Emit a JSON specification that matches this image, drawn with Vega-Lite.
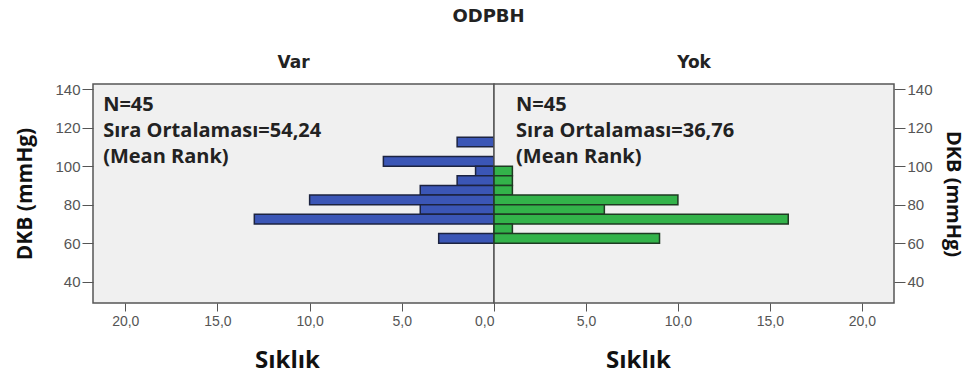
{
  "$schema": "https://vega.github.io/schema/vega-lite/v6.json",
  "background": "white",
  "padding": {"left": 14, "right": 2, "top": 8, "bottom": 2},
  "bounds": "flush",
  "title": {"text": "ODPBH", "anchor": "middle", "fontSize": 18, "font": "DejaVu Sans", "fontWeight": "bold", "color": "#222", "offset": 27},
  "datasets": {
    "bars": [
      {"group": "Var", "lo": 110, "hi": 115, "count": 2},
      {"group": "Var", "lo": 100, "hi": 105, "count": 6},
      {"group": "Var", "lo": 95, "hi": 100, "count": 1},
      {"group": "Var", "lo": 90, "hi": 95, "count": 2},
      {"group": "Var", "lo": 85, "hi": 90, "count": 4},
      {"group": "Var", "lo": 80, "hi": 85, "count": 10},
      {"group": "Var", "lo": 75, "hi": 80, "count": 4},
      {"group": "Var", "lo": 70, "hi": 75, "count": 13},
      {"group": "Var", "lo": 60, "hi": 65, "count": 3},
      {"group": "Yok", "lo": 95, "hi": 100, "count": 1},
      {"group": "Yok", "lo": 90, "hi": 95, "count": 1},
      {"group": "Yok", "lo": 85, "hi": 90, "count": 1},
      {"group": "Yok", "lo": 80, "hi": 85, "count": 10},
      {"group": "Yok", "lo": 75, "hi": 80, "count": 6},
      {"group": "Yok", "lo": 70, "hi": 75, "count": 16},
      {"group": "Yok", "lo": 65, "hi": 70, "count": 1},
      {"group": "Yok", "lo": 60, "hi": 65, "count": 9}
    ],
    "notes": [
      {"group": "Var", "label": "N=45\nSıra Ortalaması=54,24\n(Mean Rank)"},
      {"group": "Yok", "label": "N=45\nSıra Ortalaması=36,76\n(Mean Rank)"}
    ]
  },
  "spacing": 0,
  "hconcat": [
    {
      "width": 401,
      "height": 219,
      "title": {"text": "Var", "fontSize": 17, "font": "DejaVu Sans", "fontWeight": "bold", "color": "#222", "offset": 10},
      "layer": [
        {
          "data": {"name": "bars"},
          "transform": [{"filter": "datum.group === 'Var'"}],
          "mark": {"type": "bar", "color": "#3b56b6", "stroke": "#1c2340", "strokeWidth": 1.5},
          "encoding": {
            "x": {"field": "count", "type": "quantitative",
              "scale": {"domain": [0, 21.75], "reverse": true, "nice": false, "zero": false},
              "axis": {"values": [0, 5, 10, 15, 20], "labelExpr": "replace(format(datum.value, '.1f'), '.', ',')",
                "title": "Sıklık", "titleX": 194, "titleFontSize": 24, "titleFont": "Open Sans", "titleFontWeight": "bold", "titleColor": "#111", "titlePadding": 20,
                "grid": false, "domain": false, "tickSize": 8, "tickColor": "#555", "labelFont": "Liberation Sans", "labelFontSize": 14, "labelColor": "#555", "labelPadding": 3}},
            "x2": {"datum": 0},
            "y": {"field": "lo", "type": "quantitative",
              "scale": {"domain": [29, 142.6], "nice": false, "zero": false},
              "axis": {"orient": "left", "values": [40, 60, 80, 100, 120, 140], "title": "DKB (mmHg)",
                "titleFontSize": 21, "titleFont": "Open Sans", "titleFontWeight": "bold", "titleColor": "#111", "titlePadding": 19,
                "grid": false, "domain": false, "tickSize": 11, "tickColor": "#555", "labelFont": "Liberation Sans", "labelFontSize": 15, "labelColor": "#555", "labelPadding": 2}},
            "y2": {"field": "hi"}
          }
        },
        {
          "data": {"name": "notes"},
          "transform": [{"filter": "datum.group === 'Var'"}],
          "mark": {"type": "text", "align": "left", "baseline": "middle", "lineBreak": "\n", "lineHeight": 26, "fontSize": 20, "font": "Open Sans", "fontWeight": "bold", "color": "#222"},
          "encoding": {
            "x": {"datum": 21.2},
            "y": {"datum": 131.5},
            "text": {"field": "label"}
          }
        }
      ]
    },
    {
      "width": 400,
      "height": 219,
      "title": {"text": "Yok", "fontSize": 17, "font": "DejaVu Sans", "fontWeight": "bold", "color": "#222", "offset": 10},
      "layer": [
        {
          "data": {"name": "bars"},
          "transform": [{"filter": "datum.group === 'Yok'"}],
          "mark": {"type": "bar", "color": "#33b34a", "stroke": "#1e3a22", "strokeWidth": 1.5},
          "encoding": {
            "x": {"field": "count", "type": "quantitative",
              "scale": {"domain": [0, 21.75], "nice": false, "zero": false},
              "axis": {"values": [5, 10, 15, 20], "labelExpr": "replace(format(datum.value, '.1f'), '.', ',')",
                "title": "Sıklık", "titleX": 144, "titleFontSize": 24, "titleFont": "Open Sans", "titleFontWeight": "bold", "titleColor": "#111", "titlePadding": 20,
                "grid": false, "domain": false, "tickSize": 8, "tickColor": "#555", "labelFont": "Liberation Sans", "labelFontSize": 14, "labelColor": "#555", "labelPadding": 3}},
            "x2": {"datum": 0},
            "y": {"field": "lo", "type": "quantitative",
              "scale": {"domain": [29, 142.6], "nice": false, "zero": false},
              "axis": {"orient": "right", "values": [40, 60, 80, 100, 120, 140], "title": "DKB (mmHg)", "titleAngle": 90,
                "titleFontSize": 20, "titleFont": "Open Sans", "titleFontWeight": "bold", "titleColor": "#111", "titlePadding": 10,
                "grid": false, "domain": false, "tickSize": 11, "tickColor": "#555", "labelFont": "Liberation Sans", "labelFontSize": 15, "labelColor": "#555", "labelPadding": 2}},
            "y2": {"field": "hi"}
          }
        },
        {
          "data": {"name": "notes"},
          "transform": [{"filter": "datum.group === 'Yok'"}],
          "mark": {"type": "text", "align": "left", "baseline": "middle", "lineBreak": "\n", "lineHeight": 26, "fontSize": 20, "font": "Open Sans", "fontWeight": "bold", "color": "#222"},
          "encoding": {
            "x": {"datum": 1.2},
            "y": {"datum": 131.5},
            "text": {"field": "label"}
          }
        }
      ]
    }
  ],
  "config": {
    "view": {"fill": "#f0f0f0", "stroke": "#555", "strokeWidth": 1.5},
    "concat": {"spacing": 0}
  }
}
